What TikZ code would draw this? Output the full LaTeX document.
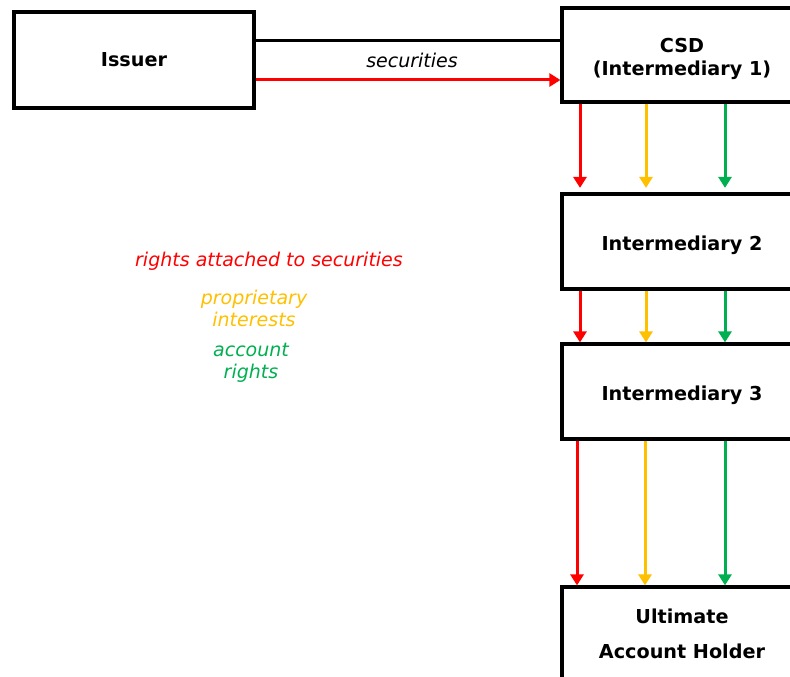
\documentclass[tikz,border=0pt]{standalone}
\usepackage{fontspec}
\setmainfont{DejaVu Sans}
\usetikzlibrary{arrows.meta}
\definecolor{cred}{HTML}{FF0000}
\definecolor{cyel}{HTML}{FFC000}
\definecolor{cgrn}{HTML}{00B050}
\begin{document}
\begin{tikzpicture}[x=1pt,y=-1pt,
  box/.style={draw=black,line width=3.2pt,minimum width=240pt,inner sep=0pt,align=center,
     font=\fontsize{19.2}{23.5}\selectfont\bfseries},
  lowtext/.style={text height=22.5pt},
  flow/.style={line width=3pt,-{Triangle[length=11pt,width=13pt]}},
  legend/.style={font=\fontsize{19}{22}\selectfont\itshape,align=center,inner sep=0pt}]
\useasboundingbox (0,0) rectangle (790,677);
\clip (0,0) rectangle (790,677);
\fill[white] (0,0) rectangle (790,677);
\node[box,minimum height=96pt] (issuer) at (134,60) {Issuer};
\node[box,minimum height=94pt] (csd) at (682,55) {\rule{0pt}{22.5pt}CSD\\(Intermediary 1)};
\node[box,lowtext,text depth=4.6pt,minimum height=95pt] (im2) at (682,241.5) {Intermediary 2};
\node[box,lowtext,text depth=4.6pt,minimum height=95pt] (im3) at (682,391.5) {Intermediary 3};
\node[box,minimum height=94pt] (uah) at (682,634) {Ultimate\\[11pt]Account Holder};
% horizontal links
\coordinate (ytop) at (0,41);
\coordinate (yred) at (0,80);
\draw[line width=3pt] (issuer.east |- ytop) -- (csd.west |- ytop);
\draw[flow,cred] (issuer.east |- yred) -- (csd.west |- yred);
\node[legend] (sec) at (412,60) {securities};
% vertical arrows
\coordinate (xr) at (580,0);
\coordinate (xy) at (646,0);
\coordinate (xg) at (725,0);
\coordinate (xr2) at (577,0);
\coordinate (xy2) at (645,0);
\draw[flow,cred] (csd.south -| xr) -- ([yshift=4.5pt]im2.north -| xr);
\draw[flow,cyel] (csd.south -| xy) -- ([yshift=4.5pt]im2.north -| xy);
\draw[flow,cgrn] (csd.south -| xg) -- ([yshift=4.5pt]im2.north -| xg);
\draw[flow,cred] (im2.south -| xr) -- (im3.north -| xr);
\draw[flow,cyel] (im2.south -| xy) -- (im3.north -| xy);
\draw[flow,cgrn] (im2.south -| xg) -- (im3.north -| xg);
\draw[flow,cred] (im3.south -| xr2) -- (uah.north -| xr2);
\draw[flow,cyel] (im3.south -| xy2) -- (uah.north -| xy2);
\draw[flow,cgrn] (im3.south -| xg) -- (uah.north -| xg);
% legend
\node[legend,text=cred] (l1) at (269,261) {rights attached to securities};
\node[legend,text=cyel] (l2) at (254,308.5) {proprietary\\interests};
\node[legend,text=cgrn] (l3) at (251,362.5) {account\\rights};
\end{tikzpicture}
\end{document}
